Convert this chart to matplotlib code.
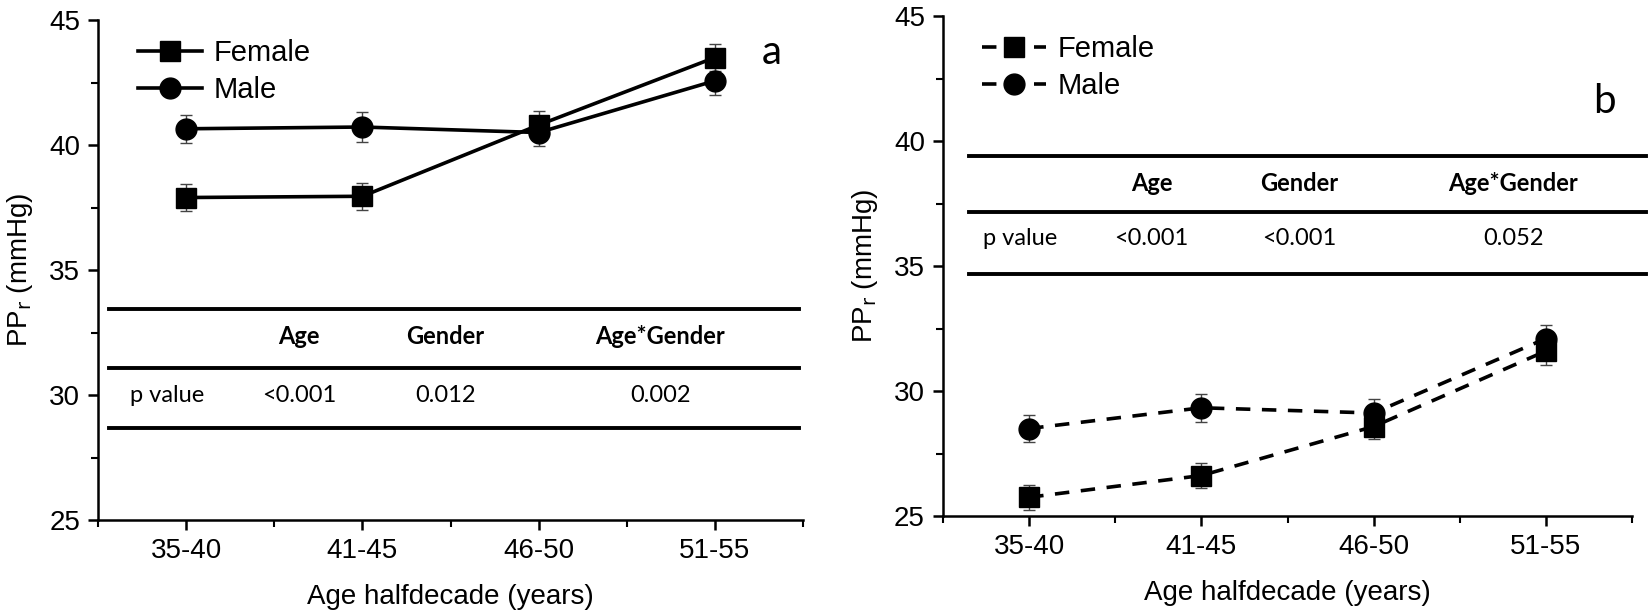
import numpy as np
import matplotlib.pyplot as plt
from matplotlib.ticker import MultipleLocator, FixedLocator

plt.rcParams['font.family'] = ['Liberation Sans Narrow', 'Liberation Sans', 'DejaVu Sans']

# data
groups = ["35-40", "41-45", "46-50", "51-55"]

female_a = [37.9, 37.95, 40.8, 43.5]
male_a = [40.65, 40.72, 40.5, 42.57]
err_female_a = [0.55, 0.55, 0.55, 0.55]
err_male_a = [0.55, 0.6, 0.55, 0.55]

female_b = [25.75, 26.62, 28.58, 31.6]
male_b = [28.5, 29.33, 29.12, 32.1]
err_female_b = [0.5, 0.5, 0.5, 0.55]
err_male_b = [0.55, 0.55, 0.55, 0.55]

tab_cols = ["Age", "Gender", "Age*Gender"]
pvals_a = ["<0.001", "0.012", "0.002"]
pvals_b = ["<0.001", "<0.001", "0.052"]

fig = plt.figure(figsize=(16.51, 6.16), dpi=100)
axA = fig.add_axes([0.0594, 0.1558, 0.4270, 0.8117])
axB = fig.add_axes([0.5712, 0.1623, 0.4173, 0.8117])

x = np.arange(1, 5)
tabfont = ['Lato', 'DejaVu Sans']


def panel(ax, fem, mal, efem, emal, ls, pv, lines_y, rows_y, xcols, xstart, xend, letter, letter_xy):
    dashes = (4, 3.2) if ls == '--' else None
    for y, e, mk, ms, lab in [(fem, efem, 's', 14, 'Female'), (mal, emal, 'o', 15, 'Male')]:
        ax.errorbar(x, y, yerr=e, fmt='none', ecolor='#444444', elinewidth=1.0,
                    capsize=4, capthick=1.0, zorder=2)
        kw = dict(color='black', lw=2.6, marker=mk, markersize=ms, label=lab, zorder=3)
        if dashes:
            ln, = ax.plot(x, y, ls='--', **kw)
            ln.set_dashes(dashes)
        else:
            ax.plot(x, y, **kw)

    ax.set_xlim(0.5, 4.5)
    ax.set_ylim(25, 45)
    ax.set_xticks(x)
    ax.set_xticklabels(groups)
    ax.xaxis.set_minor_locator(FixedLocator([0.5, 1.5, 2.5, 3.5, 4.5]))
    ax.yaxis.set_major_locator(MultipleLocator(5))
    ax.yaxis.set_minor_locator(MultipleLocator(2.5))
    for s in ['top', 'right']:
        ax.spines[s].set_visible(False)
    for s in ['left', 'bottom']:
        ax.spines[s].set_linewidth(1.8)
    ax.tick_params(which='major', direction='out', length=7, width=1.8, labelsize=20, pad=6)
    ax.tick_params(which='minor', direction='out', length=5, width=1.5)
    ax.set_xlabel('Age halfdecade (years)', fontsize=20, labelpad=14)
    ax.set_ylabel('PP$_\\mathrm{r}$ (mmHg)', fontsize=20, labelpad=10)

    ax.legend(loc='upper left', bbox_to_anchor=(0.04, 0.985), frameon=False,
              fontsize=21, handlelength=2.2, handletextpad=0.4,
              labelspacing=0.3, borderaxespad=0)

    # p value table
    for yy in lines_y:
        ax.plot([xstart, xend], [yy, yy], color='black', lw=2.8,
                transform=ax.get_yaxis_transform(), clip_on=False)
    for c, xc in zip(tab_cols, xcols[1:]):
        ax.text(xc, rows_y[0], c, ha='center', va='center', fontsize=17,
                fontweight='bold', family=tabfont)
    ax.text(xcols[0], rows_y[1], 'p value', ha='center', va='center', fontsize=17, family=tabfont)
    for v, xc in zip(pv, xcols[1:]):
        ax.text(xc, rows_y[1], v, ha='center', va='center', fontsize=17, family=tabfont)

    ax.text(letter_xy[0], letter_xy[1], letter, transform=ax.transAxes, fontsize=29,
            family=tabfont, ha='center', va='center')


panel(axA, female_a, male_a, err_female_a, err_male_a, '-', pvals_a,
      [33.45, 31.1, 28.7], [32.35, 30.0], [0.89, 1.64, 2.47, 3.69],
      0.016, 0.994, 'a', (0.955, 0.935))
panel(axB, female_b, male_b, err_female_b, err_male_b, '--', pvals_b,
      [39.4, 37.15, 34.7], [38.3, 36.1], [0.95, 1.71, 2.57, 3.81],
      0.038, 1.02, 'b', (0.96, 0.83))

fig.savefig('out.png', dpi=100)
